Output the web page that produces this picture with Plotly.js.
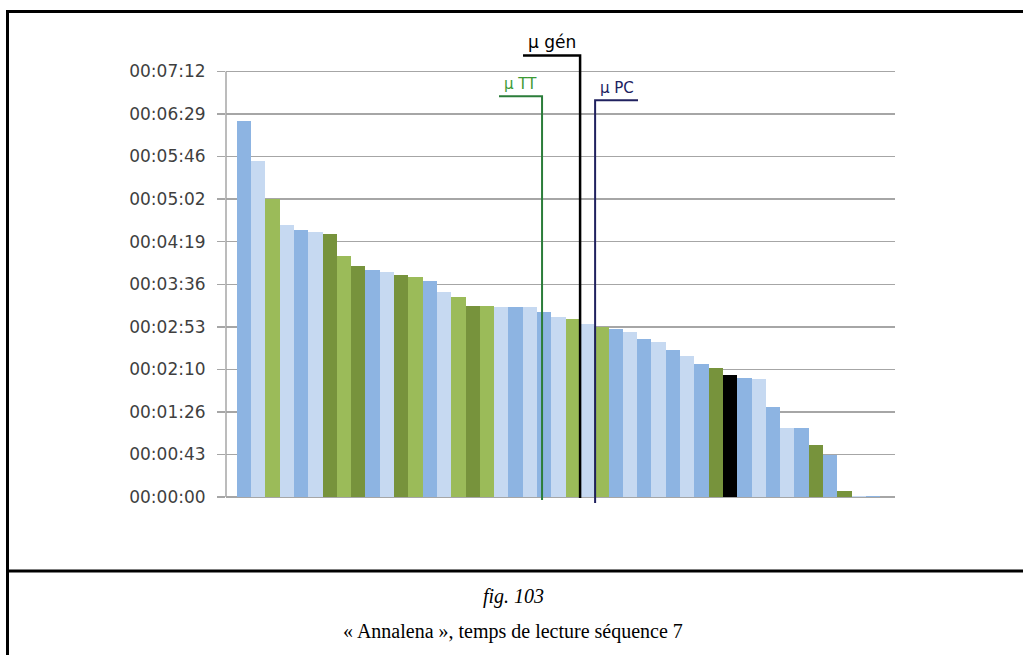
<!DOCTYPE html>
<html>
<head>
<meta charset="utf-8">
<script src="https://cdn.plot.ly/plotly-3.0.1.min.js"></script>
<style>
  html, body { margin: 0; padding: 0; background: #ffffff; }
  #chart { width: 1023px; height: 655px; }
</style>
</head>
<body>
<div id="chart"></div>
<script>
// ---- data (reading times in seconds, sorted by rank) ----
var readingSeconds = [382, 341, 302, 276, 271, 269, 267, 245, 235, 230, 228, 225, 223, 219, 208, 203,
                      194, 194, 193, 193, 193, 188, 183, 181, 176, 173, 171, 168, 160, 157, 149, 143,
                      135, 131, 124, 121, 120, 91, 70, 70, 53, 43, 6, 1.5, 1];
var readerGroup = ['b','lb','g','lb','b','lb','dg','g','dg','b','lb','dg','g','b','lb','g',
                   'dg','g','lb','b','lb','b','lb','g','lb','g','b','lb','b','lb','b','lb',
                   'b','dg','k','b','lb','b','lb','b','dg','b','dg','lb','b'];
var groupColors = { b: '#8db4e2', lb: '#c6d9f1', g: '#9bbb59', dg: '#77933c', k: '#000000' };

var tickSeconds = [0, 43.2, 86.4, 129.6, 172.8, 216, 259.2, 302.4, 345.6, 388.8, 432];
var tickLabels  = ['00:00:00','00:00:43','00:01:26','00:02:10','00:02:53','00:03:36',
                   '00:04:19','00:05:02','00:05:46','00:06:29','00:07:12'];

// mean markers (rank position of vertical line, flag end, flag height, line bottom)
var meanNames   = ['\u03bc TT', '\u03bc g\u00e9n', '\u03bc PC'];
var meanRank    = [21.85, 24.51, 25.56];
var meanFlagEnd = [18.84, 20.52, 28.56];
var meanFlagY   = [406.7, 448.2, 402.6];
var meanBottom  = [-3, -1, -6];
var meanLineColors  = ['#2b7d3a', '#000000', '#20215f'];
var meanLabelColors = ['#3c9a35', '#000000', '#20215f'];
var meanLabelSizes  = [15, 17, 15];

var figureNumber = 'fig. 103';
var figureCaption = '\u00ab Annalena \u00bb, temps de lecture s\u00e9quence 7';

// ---- traces ----
var ranks = readingSeconds.map(function (v, i) { return i + 1; });
var traces = [{
  type: 'bar',
  x: ranks,
  y: readingSeconds,
  width: 1,
  marker: { color: readerGroup.map(function (g) { return groupColors[g]; }), line: { width: 0 } },
  hoverinfo: 'y',
  showlegend: false
}];

var annotations = [];
for (var k = 0; k < meanNames.length; k++) {
  traces.push({
    type: 'scatter',
    mode: 'lines',
    x: [meanFlagEnd[k], meanRank[k], meanRank[k]],
    y: [meanFlagY[k], meanFlagY[k], meanBottom[k]],
    line: { color: meanLineColors[k], width: k === 1 ? 2.5 : 2 },
    hoverinfo: 'skip',
    showlegend: false
  });
  annotations.push({
    x: (meanFlagEnd[k] + meanRank[k]) / 2,
    y: meanFlagY[k],
    xref: 'x', yref: 'y',
    text: meanNames[k],
    showarrow: false,
    xanchor: 'center', yanchor: 'bottom',
    yshift: 1,
    font: { family: 'DejaVu Sans', size: meanLabelSizes[k], color: meanLabelColors[k] }
  });
}

// caption
annotations.push({
  xref: 'paper', yref: 'paper', x: 0.4297, y: -0.1926,
  text: figureNumber, showarrow: false, xanchor: 'center', yanchor: 'middle',
  font: { family: 'Liberation Serif', size: 20, color: '#000000', style: 'italic' }
});
annotations.push({
  xref: 'paper', yref: 'paper', x: 0.4297, y: -0.2651,
  text: figureCaption, showarrow: false, xanchor: 'center', yanchor: 'middle',
  font: { family: 'Liberation Serif', size: 20, color: '#000000' }
});

var shapes = [
  // y axis line
  { type: 'line', xref: 'paper', yref: 'y', x0: 0, x1: 0, y0: 0, y1: 432,
    line: { color: '#a6a6a6', width: 1.5 }, layer: 'below' },
  // outer frame
  { type: 'rect', xref: 'paper', yref: 'paper', x0: -0.3266, x1: 1.196, y0: -0.325, y1: 1.0369,
    line: { color: '#000000', width: 3 }, layer: 'above' },
  // separator above caption
  { type: 'line', xref: 'paper', yref: 'paper', x0: -0.3266, x1: 1.196, y0: -0.1385, y1: -0.1385,
    line: { color: '#000000', width: 3 }, layer: 'above' }
];

var layout = {
  width: 1023, height: 655,
  margin: { l: 226, r: 128, t: 29, b: 150, pad: 0 },
  paper_bgcolor: '#ffffff', plot_bgcolor: '#ffffff',
  bargap: 0,
  showlegend: false,
  xaxis: {
    range: [-0.25, 46.53],
    showgrid: false, zeroline: false, showline: false,
    showticklabels: false, ticks: ''
  },
  yaxis: {
    range: [-8, 475],
    tickmode: 'array', tickvals: tickSeconds, ticktext: tickLabels,
    showgrid: true, gridcolor: '#a6a6a6', gridwidth: 1.5,
    zeroline: false, showline: false,
    ticks: 'outside', ticklen: 8, tickcolor: '#a6a6a6', tickwidth: 1.5,
    ticklabelstandoff: 8,
    tickfont: { family: 'DejaVu Sans', size: 17, color: '#3f3f3f' }
  },
  annotations: annotations,
  shapes: shapes
};

Plotly.newPlot('chart', traces, layout, { staticPlot: true, displayModeBar: false });
</script>
</body>
</html>
